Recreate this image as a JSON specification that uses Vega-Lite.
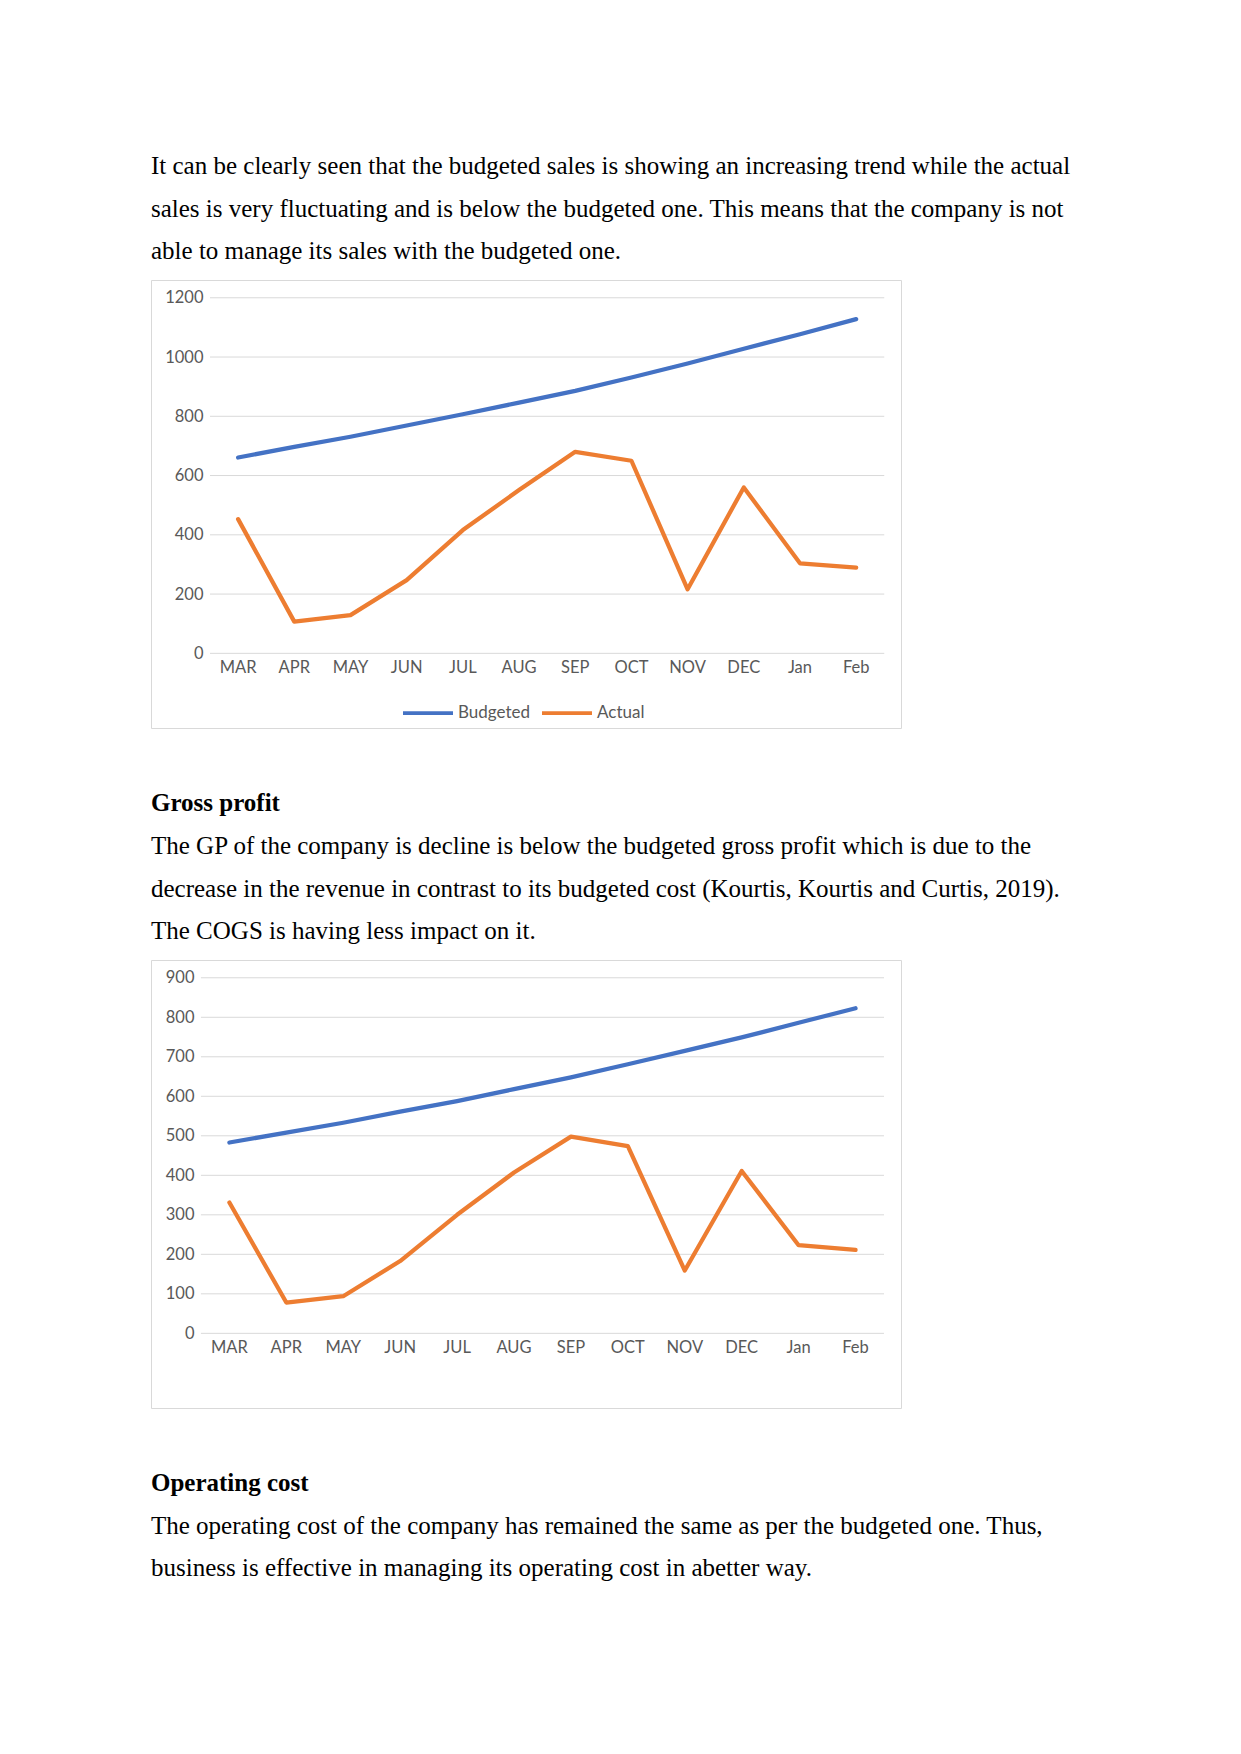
{
  "$schema": "https://vega.github.io/schema/vega-lite/v6.json",
  "background": "white",
  "padding": {"left": 150, "top": 153, "right": 20, "bottom": 20},
  "spacing": 61,
  "config": {
    "font": "Lato",
    "view": {"stroke": "#d9d9d9", "strokeWidth": 1},
    "axis": {"labelFont": "Lato", "labelFontSize": 16.5, "labelColor": "#595959", "grid": false, "domain": false, "ticks": false, "title": null},
    "title": {"font": "Liberation Serif", "fontSize": 25, "color": "#000000", "anchor": "start", "fontWeight": "normal", "lineHeight": 42.5, "subtitleFont": "Liberation Serif", "subtitleFontSize": 25, "subtitleColor": "#000000", "subtitleLineHeight": 42.5, "frame": "group", "offset": 16},
    "legend": {"orient": "none", "legendX": 250, "legendY": 406, "direction": "horizontal", "title": null, "symbolType": "stroke", "symbolSize": 2500, "symbolStrokeWidth": 3.75, "labelFont": "Lato", "labelFontSize": 17, "labelColor": "#595959", "labelOffset": 3, "columnPadding": 4, "padding": 0}
  },
  "datasets": {
    "sales": [
      {"month": "MAR", "series": "Budgeted", "value": 661},
      {"month": "APR", "series": "Budgeted", "value": 697},
      {"month": "MAY", "series": "Budgeted", "value": 731},
      {"month": "JUN", "series": "Budgeted", "value": 769},
      {"month": "JUL", "series": "Budgeted", "value": 807},
      {"month": "AUG", "series": "Budgeted", "value": 846},
      {"month": "SEP", "series": "Budgeted", "value": 886},
      {"month": "OCT", "series": "Budgeted", "value": 931},
      {"month": "NOV", "series": "Budgeted", "value": 978},
      {"month": "DEC", "series": "Budgeted", "value": 1028},
      {"month": "Jan", "series": "Budgeted", "value": 1077},
      {"month": "Feb", "series": "Budgeted", "value": 1128},
      {"month": "MAR", "series": "Actual", "value": 453},
      {"month": "APR", "series": "Actual", "value": 107},
      {"month": "MAY", "series": "Actual", "value": 129},
      {"month": "JUN", "series": "Actual", "value": 247},
      {"month": "JUL", "series": "Actual", "value": 416},
      {"month": "AUG", "series": "Actual", "value": 551},
      {"month": "SEP", "series": "Actual", "value": 680},
      {"month": "OCT", "series": "Actual", "value": 650},
      {"month": "NOV", "series": "Actual", "value": 216},
      {"month": "DEC", "series": "Actual", "value": 560},
      {"month": "Jan", "series": "Actual", "value": 304},
      {"month": "Feb", "series": "Actual", "value": 289}
    ],
    "gp": [
      {"month": "MAR", "series": "Budgeted", "value": 483},
      {"month": "APR", "series": "Budgeted", "value": 508},
      {"month": "MAY", "series": "Budgeted", "value": 533},
      {"month": "JUN", "series": "Budgeted", "value": 561},
      {"month": "JUL", "series": "Budgeted", "value": 588},
      {"month": "AUG", "series": "Budgeted", "value": 618},
      {"month": "SEP", "series": "Budgeted", "value": 648},
      {"month": "OCT", "series": "Budgeted", "value": 681},
      {"month": "NOV", "series": "Budgeted", "value": 715},
      {"month": "DEC", "series": "Budgeted", "value": 749},
      {"month": "Jan", "series": "Budgeted", "value": 786},
      {"month": "Feb", "series": "Budgeted", "value": 823},
      {"month": "MAR", "series": "Actual", "value": 331},
      {"month": "APR", "series": "Actual", "value": 78},
      {"month": "MAY", "series": "Actual", "value": 94},
      {"month": "JUN", "series": "Actual", "value": 183},
      {"month": "JUL", "series": "Actual", "value": 300},
      {"month": "AUG", "series": "Actual", "value": 407},
      {"month": "SEP", "series": "Actual", "value": 498},
      {"month": "OCT", "series": "Actual", "value": 474},
      {"month": "NOV", "series": "Actual", "value": 159},
      {"month": "DEC", "series": "Actual", "value": 411},
      {"month": "Jan", "series": "Actual", "value": 223},
      {"month": "Feb", "series": "Actual", "value": 211}
    ],
    "grid1": [{"v": 0}, {"v": 200}, {"v": 400}, {"v": 600}, {"v": 800}, {"v": 1000}, {"v": 1200}],
    "grid2": [{"v": 0}, {"v": 100}, {"v": 200}, {"v": 300}, {"v": 400}, {"v": 500}, {"v": 600}, {"v": 700}, {"v": 800}, {"v": 900}]
  },
  "vconcat": [
    {
      "width": 750,
      "height": 448,
      "title": {"text": ["It can be clearly seen that the budgeted sales is showing an increasing trend while the actual", "sales is very fluctuating and is below the budgeted one. This means that the company is not", "able to manage its sales with the budgeted one."]},
      "layer": [
        {
          "data": {"name": "grid1"},
          "mark": {"type": "rule", "color": "#d9d9d9", "strokeWidth": 1},
          "encoding": {
            "y": {"field": "v", "type": "quantitative", "scale": {"domain": [-252, 1260], "nice": false, "zero": false}, "axis": {"values": [0, 200, 400, 600, 800, 1000, 1200], "format": "d", "offset": -59, "labelPadding": 7}},
            "x": {"datum": "MAR", "type": "ordinal", "bandPosition": 0, "scale": {"type": "band", "domain": ["MAR", "APR", "MAY", "JUN", "JUL", "AUG", "SEP", "OCT", "NOV", "DEC", "Jan", "Feb"], "paddingInner": 0, "paddingOuter": 0.674, "align": 0.779}, "axis": {"orient": "bottom", "offset": -74.7, "labelPadding": 6, "labelAngle": 0}},
            "x2": {"datum": "Feb", "bandPosition": 1}
          }
        },
        {
          "data": {"name": "sales"},
          "mark": {"type": "line", "strokeWidth": 4.25, "strokeCap": "round", "strokeJoin": "round"},
          "encoding": {
            "x": {"field": "month", "type": "ordinal", "sort": null, "axis": {"orient": "bottom", "offset": -74.7, "labelPadding": 6, "labelAngle": 0}},
            "y": {"field": "value", "type": "quantitative"},
            "color": {"field": "series", "type": "nominal", "scale": {"domain": ["Budgeted", "Actual"], "range": ["#4472C4", "#ED7D31"]}}
          }
        }
      ]
    },
    {
      "width": 750,
      "height": 448,
      "title": {"text": "Gross profit", "fontWeight": "bold", "subtitle": ["The GP of the company is decline is below the budgeted gross profit which is due to the", "decrease in the revenue in contrast to its budgeted cost (Kourtis, Kourtis and Curtis, 2019).", "The COGS is having less impact on it."], "subtitlePadding": 18},
      "layer": [
        {
          "data": {"name": "grid2"},
          "mark": {"type": "rule", "color": "#d9d9d9", "strokeWidth": 1},
          "encoding": {
            "y": {"field": "v", "type": "quantitative", "scale": {"domain": [-189, 945], "nice": false, "zero": false}, "axis": {"values": [0, 100, 200, 300, 400, 500, 600, 700, 800, 900], "format": "d", "offset": -50, "labelPadding": 7}},
            "x": {"datum": "MAR", "type": "ordinal", "bandPosition": 0, "scale": {"type": "band", "domain": ["MAR", "APR", "MAY", "JUN", "JUL", "AUG", "SEP", "OCT", "NOV", "DEC", "Jan", "Feb"], "paddingInner": 0, "paddingOuter": 0.588, "align": 0.746}, "axis": {"orient": "bottom", "offset": -74.7, "labelPadding": 6, "labelAngle": 0}},
            "x2": {"datum": "Feb", "bandPosition": 1}
          }
        },
        {
          "data": {"name": "gp"},
          "mark": {"type": "line", "strokeWidth": 4.25, "strokeCap": "round", "strokeJoin": "round"},
          "encoding": {
            "x": {"field": "month", "type": "ordinal", "sort": null, "axis": {"orient": "bottom", "offset": -74.7, "labelPadding": 6, "labelAngle": 0}},
            "y": {"field": "value", "type": "quantitative"},
            "color": {"field": "series", "type": "nominal", "scale": {"domain": ["Budgeted", "Actual"], "range": ["#4472C4", "#ED7D31"]}}
          }
        }
      ]
    },
    {
      "width": 750,
      "height": 1,
      "view": {"stroke": null},
      "title": {"text": "Operating cost", "fontWeight": "bold", "subtitle": ["The operating cost of the company has remained the same as per the budgeted one. Thus,", "business is effective in managing its operating cost in abetter way."], "subtitlePadding": 18},
      "data": {"values": []},
      "mark": {"type": "point"},
      "encoding": {}
    }
  ]
}
